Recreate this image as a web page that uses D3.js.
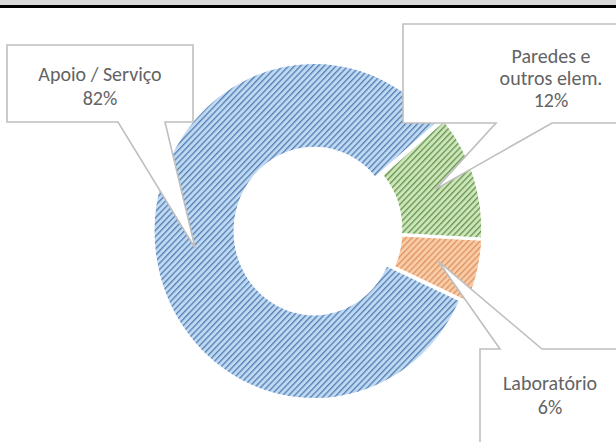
<!DOCTYPE html>
<html>
<head>
<meta charset="utf-8">
<script src="https://cdn.jsdelivr.net/npm/d3@7"></script>
<style>
  body { margin: 0; background: #fff; }
  text { font-family: Carlito, Lato, "Open Sans", sans-serif; }
</style>
</head>
<body>
<svg></svg>
<script>
var viewWidth = 616;
var viewHeight = 442;

// data
var categories = ["Apoio / Serviço", "Paredes e outros elem.", "Laboratório"];
var values = [82, 12, 6];
var labelLines = [["Apoio / Serviço"], ["Paredes e", "outros elem."], ["Laboratório"]];

var colors = [
    {light: "#c0d9f2", dark: "#5580b4"},
    {light: "#cde5bb", dark: "#68964e"},
    {light: "#f9cba6", dark: "#de9462"}
];

var svg = d3.select("svg")
    .attr("width", viewWidth)
    .attr("height", viewHeight);

// hatch patterns
var defs = svg.append("defs");
colors.forEach(function(c, i) {
    var p = defs.append("pattern")
        .attr("id", "hatch" + i)
        .attr("patternUnits", "userSpaceOnUse")
        .attr("width", 4.2)
        .attr("height", 4.2)
        .attr("patternTransform", "rotate(45)");
    p.append("rect").attr("width", 4.2).attr("height", 4.2).attr("fill", c.light);
    p.append("rect").attr("width", 1.3).attr("height", 4.2).attr("fill", c.dark);
});

// top frame
svg.append("rect").attr("x", 0).attr("y", 0).attr("width", viewWidth).attr("height", 5).attr("fill", "#d9d9d9");
svg.append("rect").attr("x", 0).attr("y", 5).attr("width", viewWidth).attr("height", 3).attr("fill", "#000");

var cx = 318, cy = 230.5, sy = 1.047;
var outerR = 160, innerR = 80, explode = 4;
var rad = Math.PI / 180;

var pie = d3.pie()
    .sort(null)
    .value(function(d) { return d; })
    .startAngle(114.6 * rad)
    .endAngle(474.6 * rad);

var arc = d3.arc().innerRadius(innerR).outerRadius(outerR);
var arcs = pie(values);

function offset(d) {
    var m = (d.startAngle + d.endAngle) / 2;
    return [explode * Math.sin(m), -explode * Math.cos(m)];
}

var g = svg.append("g")
    .attr("transform", "translate(" + cx + "," + cy + ") scale(1," + sy + ")");

g.selectAll("path")
    .data(arcs)
    .enter()
    .append("path")
    .attr("transform", function(d) { var o = offset(d); return "translate(" + o[0] + "," + o[1] + ")"; })
    .attr("d", arc)
    .attr("fill", function(d, i) { return "url(#hatch" + i + ")"; })
    .attr("stroke", "#fff")
    .attr("stroke-width", 1);

// callouts (box layout + pointer base on the box edge)
var callouts = [
    {x0: 7, y0: 45, x1: 193, y1: 122, side: "bottom", b1: 118, b2: 165, tx: 100, ty: [81]},
    {x0: 403, y0: 24, x1: 699, y1: 123, side: "bottom", b1: 496, b2: 552, tx: 551, ty: [63, 85]},
    {x0: 480, y0: 349, x1: 620, y1: 446, side: "top", b1: 500, b2: 542, tx: 550, ty: [390]}
];

arcs.forEach(function(d, i) {
    var c = callouts[i];
    var o = offset(d);
    var cen = arc.centroid(d);
    var tipX = cx + cen[0] + o[0];
    var tipY = cy + (cen[1] + o[1]) * sy;
    var path;
    if (c.side === "bottom") {
        path = "M" + c.x0 + "," + c.y0 + "H" + c.x1 + "V" + c.y1 + "H" + c.b2 +
            "L" + tipX + "," + tipY + "L" + c.b1 + "," + c.y1 + "H" + c.x0 + "Z";
    } else {
        path = "M" + c.x0 + "," + c.y0 + "H" + c.b1 + "L" + tipX + "," + tipY +
            "L" + c.b2 + "," + c.y0 + "H" + c.x1 + "V" + c.y1 + "H" + c.x0 + "Z";
    }
    svg.append("path")
        .attr("d", path)
        .attr("fill", "#fff")
        .attr("stroke", "#bfbfbf")
        .attr("stroke-width", 1.6);

    var lines = labelLines[i].concat([values[i] + "%"]);
    var lh = (c.ty.length > 1) ? c.ty[1] - c.ty[0] : 24;
    lines.forEach(function(t, k) {
        svg.append("text")
            .attr("x", c.tx)
            .attr("y", c.ty[0] + k * lh)
            .attr("text-anchor", "middle")
            .style("font-size", "20px")
            .style("fill", "#636363")
            .text(t);
    });
});
</script>
</body>
</html>
